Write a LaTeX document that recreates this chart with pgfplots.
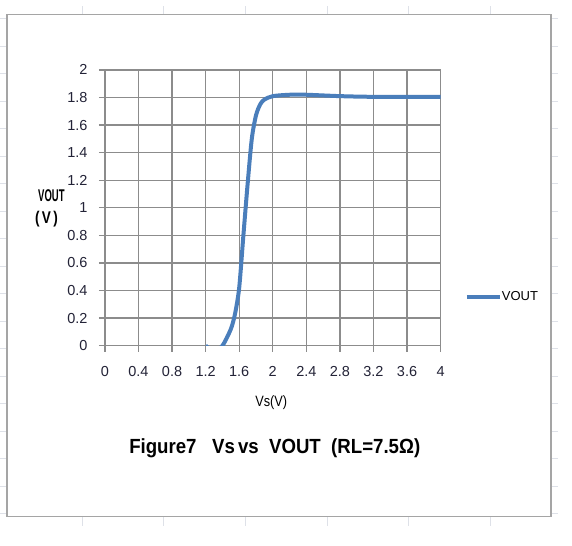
\documentclass[border=0pt]{standalone}
\usepackage{pgfplots}
\pgfplotsset{compat=1.18}
\usepackage{graphicx}
\usepackage{fontspec}
\setmainfont{Liberation Sans}

\definecolor{seriesblue}{RGB}{74,126,187}
\definecolor{gridgray}{RGB}{140,140,140}
\definecolor{framegray}{RGB}{165,165,165}
\definecolor{cellgray}{RGB}{222,225,232}
\definecolor{ticktext}{RGB}{35,35,55}

\begin{document}
\begin{tikzpicture}[x=1pt,y=1pt]
  % sheet background and chart frame
  \fill[white] (0,0) rectangle (572,546);
  \foreach \xx in {81.7,163.4,245.1,326.8,408.5,490.2}{
    \draw[cellgray,line width=1pt] (\xx,531.3) -- (\xx,540);
    \draw[cellgray,line width=1pt] (\xx,20) -- (\xx,29);
  }
  \foreach \k in {0,...,18}{
    \pgfmathsetmacro{\yy}{527-27.5*\k}
    \ifdim\yy pt>29pt
      \draw[cellgray,line width=1pt] (0,\yy) -- (6.7,\yy);
      \draw[cellgray,line width=1pt] (551,\yy) -- (558,\yy);
    \fi
  }
  \draw[framegray,line width=1.5pt] (6.7,29) rectangle (551,531.3);

  \begin{axis}[
    at={(104.5pt,200pt)}, anchor=south west,
    scale only axis, width=336pt, height=276pt,
    xmin=0, xmax=4, ymin=0, ymax=2,
    xtick={0,0.4,...,4.01}, ytick={0,0.2,...,2.01},
    grid=major,
    major grid style={gridgray,line width=1.3pt},
    axis line style={gridgray,line width=1.3pt},
    tick style={gridgray,line width=1.3pt},
    tick align=outside, major tick length=6pt,
    xtick pos=bottom, ytick pos=left,
    /pgf/number format/assume math mode=true,
    /pgf/number format/fixed,
    ticklabel style={font=\fontsize{14.5}{14.5}\selectfont, text=ticktext},
    yticklabel style={xshift=-8pt},
    xticklabel style={yshift=-11pt},
    clip=true,
    legend style={at={(1.072,0.1775)}, anchor=west, draw=none, fill=none,
      inner sep=0pt, font=\fontsize{13}{13}\selectfont,
      legend cell align=left},
    legend image code/.code={\draw[seriesblue,line width=4pt] (0pt,0pt) -- (33pt,0pt);},
  ]
    \addplot[seriesblue, line width=4pt, smooth, tension=0.45, line join=round]
      coordinates {
        (1.2,0) (1.3,-0.04) (1.4,0) (1.5,0.12) (1.55,0.23) (1.6,0.42)
        (1.65,0.8) (1.7,1.17) (1.75,1.5) (1.8,1.67) (1.85,1.75)
        (1.9,1.785) (2.0,1.81) (2.2,1.82) (2.4,1.82) (2.8,1.81)
        (3.2,1.805) (4.0,1.805)
      };
    \addlegendentry{\hspace{-2pt}VOUT}
  \end{axis}

  % axis titles and chart title
  \node[font=\bfseries\fontsize{17}{17}\selectfont, inner sep=0pt] at (51,350)
    {\scalebox{0.56}[1]{VOUT}};
  \node[font=\bfseries\fontsize{17}{17}\selectfont, inner sep=0pt] at (46,327)
    {\scalebox{0.8}[1]{(\,V\,)}};
  \node[font=\fontsize{15}{15}\selectfont, inner sep=0pt] at (271,143)
    {\scalebox{0.85}[1]{Vs(V)}};
  \node[font=\bfseries\fontsize{20.5}{20.5}\selectfont, inner sep=0pt, anchor=base] at (274.5,92)
    {\scalebox{0.91}[1]{Figure7\ \ \ Vs\,vs\ \ VOUT\ \ (RL=7.5Ω)}};
\end{tikzpicture}
\end{document}
